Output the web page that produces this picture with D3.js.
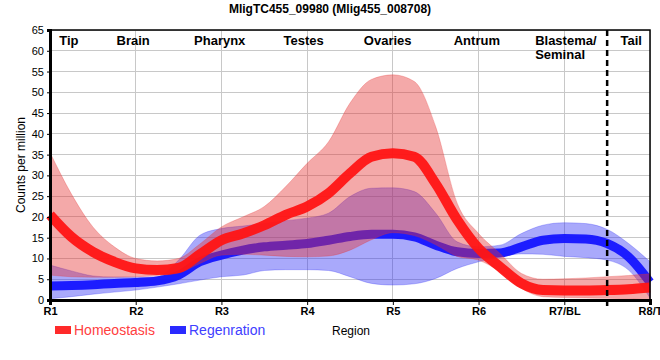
<!DOCTYPE html>
<html><head><meta charset="utf-8">
<script src="https://cdn.jsdelivr.net/npm/d3@7/dist/d3.min.js"></script>
<style>body{margin:0;background:#fff}svg{display:block;font-family:"Liberation Sans",Arial,sans-serif}</style>
</head><body><svg id="c" width="660" height="360"></svg>
<script>
const title = "MligTC455_09980 (Mlig455_008708)";
const regions = ["R1","R2","R3","R4","R5","R6","R7/BL","R8/T"];
const tissues = ["Tip","Brain","Pharynx","Testes","Ovaries","Antrum","Blastema/\nSeminal","Tail"];
const tissuePos = [0.22,0.97,1.98,2.96,3.94,4.98,5.66,6.78];
const yTicks = d3.range(0,66,5);
const pos = d3.range(0,7.01,0.25);
const homMean = [20.5,15.2,11.6,9.2,7.6,7.2,7.7,11,14.4,16,18,20.5,22.5,25.7,30.5,34.5,35.3,34.5,28,19.3,12.4,8,4,2.4,2.3,2.3,2.4,2.6,3.0];
const homLow  = [6,5.6,5.5,5.5,5.6,5.9,6.5,8.8,10.8,11,10.8,10.5,10.4,10.6,12,14.5,16.2,15.5,13.3,10.5,9.6,6.8,2.8,0.8,0.6,0.5,0.4,0.3,0];
const homHigh = [35.5,25.5,17.6,12.8,10,9.4,10,13.5,17.6,20,22.5,27.3,32.9,38.1,47.4,53.1,54.2,52.6,41.7,23.3,16,11.2,6.4,5,5.1,5.3,5.6,5.9,6.3];
const regMean = [3.4,3.5,3.7,4.0,4.2,4.6,6.0,9.2,10.8,12,12.8,13.2,13.6,14.4,15.3,15.8,15.8,15.2,13.2,11.6,11.2,11.3,12.8,14.4,14.8,14.7,13.6,10.4,4.3];
const regLow  = [0.3,0.8,1.4,1.9,2.4,3.1,3.9,4.8,5.6,6,7.1,7.3,7.3,7.1,5.6,4,3.6,3.9,5.2,7.6,9.2,10.4,11.1,11,10.5,10.2,9.6,7.2,0.5];
const regHigh = [8.4,7.0,5.8,5.5,5.5,5.6,9.6,15.6,17.2,17.8,18.4,19.1,19.7,20.9,24.9,26.9,27,26.1,20.9,14,12.8,13.2,16,18,18.6,18.4,17,13.6,9.2];
const legendNames = ["Homeostasis","Regenration"];

const svg = d3.select("#c");
const x = d3.scaleLinear().domain([0,7]).range([50,650]);
const y = d3.scaleLinear().domain([0,65]).range([300,30]);

// grid
svg.append("g").selectAll("line").data(yTicks).join("line")
  .attr("x1",50).attr("x2",650).attr("y1",d=>y(d)).attr("y2",d=>y(d))
  .attr("stroke","#c8c8c8").attr("stroke-width",1).attr("shape-rendering","crispEdges");
svg.append("g").selectAll("line").data(regions).join("line")
  .attr("x1",(d,i)=>x(i)).attr("x2",(d,i)=>x(i)).attr("y1",30).attr("y2",300)
  .attr("stroke","#c8c8c8").attr("stroke-width",1).attr("shape-rendering","crispEdges");

const curve = d3.curveMonotoneX;
function band(lo,hi,fill,stroke){
  const data = pos.map((p,i)=>({p,lo:lo[i],hi:hi[i]}));
  svg.append("path").datum(data)
    .attr("d",d3.area().curve(curve).x(d=>x(d.p)).y0(d=>y(d.lo)).y1(d=>y(d.hi)))
    .attr("fill",fill).attr("stroke",stroke).attr("stroke-width",0.8);
}
function line(vals,color,w){
  const data = pos.map((p,i)=>({p,v:vals[i]}));
  svg.append("path").datum(data)
    .attr("d",d3.line().curve(curve).x(d=>x(d.p)).y(d=>y(d.v)))
    .attr("fill","none").attr("stroke",color).attr("stroke-width",w);
}
band(regLow,regHigh,"rgba(40,40,245,0.4)","rgba(40,40,245,0.35)");
line(regMean,"rgba(20,20,255,0.95)",9);
band(homLow,homHigh,"rgba(228,50,50,0.42)","rgba(228,50,50,0.35)");
line(homMean,"rgba(255,20,20,0.95)",10);

// dashed separator
svg.append("line").attr("x1",x(6.5)).attr("x2",x(6.5)).attr("y1",30).attr("y2",306)
  .attr("stroke","#000").attr("stroke-width",2.5).attr("stroke-dasharray","6,4");

// frame
svg.append("rect").attr("x",50).attr("y",30).attr("width",600).attr("height",270)
  .attr("fill","none").attr("stroke","#000").attr("stroke-width",1.5);

// axes
const yAxis = svg.append("g").attr("transform","translate(50,0)")
  .call(d3.axisLeft(y).tickValues(yTicks).tickSize(3).tickPadding(3));
yAxis.select(".domain").attr("stroke-width",3);
yAxis.selectAll("text").attr("font-size",11).attr("font-family","Liberation Sans, Arial, sans-serif").attr("fill","#000");
const xAxis = svg.append("g").attr("transform","translate(0,300)")
  .call(d3.axisBottom(x).tickValues(d3.range(regions.length)).tickFormat(i=>regions[i]).tickSize(5).tickPadding(2));
xAxis.select(".domain").attr("stroke-width",3);
xAxis.selectAll("text").attr("font-size",11).attr("font-weight","bold").attr("font-family","Liberation Sans, Arial, sans-serif").attr("fill","#000");

// tissue labels
tissues.forEach((t,i)=>{
  const lines = t.split("\n");
  const multi = lines.length>1;
  const tx = svg.append("text").attr("font-size",13).attr("font-weight","bold")
    .attr("text-anchor",multi?"start":"middle").attr("fill","#000");
  lines.forEach((l,j)=>{
    tx.append("tspan").attr("x",x(tissuePos[i])).attr("y",45+j*14).text(l);
  });
});

// title
svg.append("text").attr("x",330).attr("y",13).attr("text-anchor","middle")
  .attr("font-size",12).attr("font-weight","bold").text(title);

// y label
svg.append("text").attr("transform","translate(25,165) rotate(-90)").attr("text-anchor","middle")
  .attr("font-size",12).text("Counts per million");

// x label
svg.append("text").attr("x",351).attr("y",335).attr("text-anchor","middle").attr("font-size",12).text("Region");

// legend
const legColors = ["#ff2a2a","#2a2aff"];
const legText = ["#ff4040","#4040ff"];
const legX = [55,170];
legendNames.forEach((n,i)=>{
  svg.append("rect").attr("x",legX[i]).attr("y",326).attr("width",16).attr("height",8).attr("fill",legColors[i]);
  svg.append("text").attr("x",legX[i]+19).attr("y",335).attr("font-size",14).attr("fill",legText[i]).text(n);
});
</script></body></html>
